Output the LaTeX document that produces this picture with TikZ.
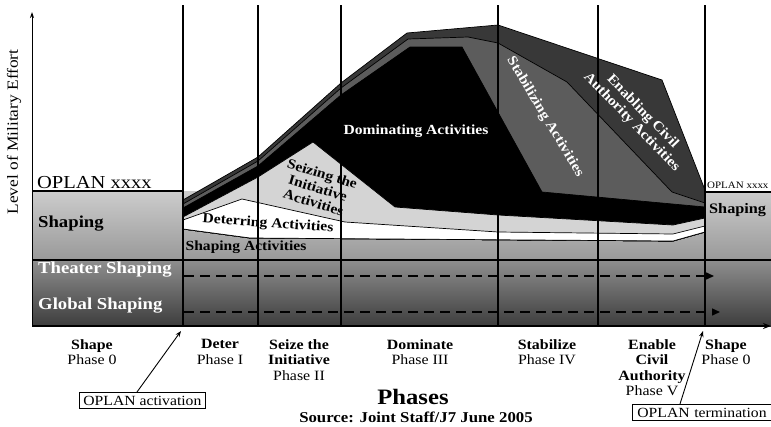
\documentclass[tikz,border=0pt]{standalone}
\usepackage{fontspec}
\setmainfont{Liberation Serif}[FakeStretch=1.12]
\usetikzlibrary{arrows.meta}

\definecolor{enablegray}{gray}{0.22}
\definecolor{stabgray}{gray}{0.36}
\definecolor{seizegray}{gray}{0.83}
\definecolor{bandtop}{gray}{0.80}
\definecolor{bandbot}{gray}{0.60}
\definecolor{deeptop}{gray}{0.56}
\definecolor{deepbot}{gray}{0.24}

\begin{document}
\begin{tikzpicture}[x=1pt, y=-1pt,
  every node/.style={inner sep=0pt},
  layer/.style={draw=black, line width=0.7pt},
  grid/.style={line width=1.1pt},
  bandlabel/.style={anchor=base west, font=\fontsize{16.7}{18}\selectfont\bfseries},
  actlabel/.style={font=\fontsize{13.9}{15}\selectfont\bfseries, align=center},
  phasetxt/.style={anchor=north, align=center, font=\fontsize{14.2}{15.5}\selectfont},
  flow/.style={line width=1.5pt, dash pattern=on 10pt off 6pt,
               -{Triangle[length=8pt, width=7pt]}},
  callout/.style={draw, line width=0.8pt, inner xsep=4pt, inner ysep=3.5pt,
                  font=\fontsize{14}{15}\selectfont},
  pointer/.style={line width=0.9pt, -{Stealth[length=6pt, width=4.5pt]}}
]
  \useasboundingbox (0,0) rectangle (771,426);

  % --- Background bands ---
  \shade[top color=bandtop, bottom color=bandbot] (32,191) rectangle (771,260);
  \shade[top color=deeptop, bottom color=deepbot] (32,260) rectangle (771,326);

  % --- Activity layers (back to front) ---
  \filldraw[layer, fill=enablegray]
    (183,200) -- (258,157) -- (341,83) -- (407,33) -- (498,25) -- (662,80)
    -- (705,190) -- (705,232) -- (673,241) -- (250,238) -- (183,229) -- cycle;
  \filldraw[layer, fill=stabgray]
    (183,204) -- (258,161) -- (341,88) -- (408,39) -- (468,37) -- (498,43)
    -- (567,82) -- (672,192) -- (705,203) -- (705,232) -- (673,241)
    -- (250,238) -- (183,229) -- cycle;
  \filldraw[layer, fill=black]
    (183,208) -- (258,166) -- (341,95) -- (410,47) -- (462,47) -- (542,192)
    -- (705,207) -- (705,232) -- (673,241) -- (250,238) -- (183,229) -- cycle;
  \filldraw[layer, fill=seizegray]
    (183,217) -- (258,177) -- (313,142) -- (395,207) -- (498,215) -- (673,225)
    -- (705,218) -- (705,232) -- (673,241) -- (250,238) -- (183,229) -- cycle;
  \filldraw[layer, fill=white]
    (183,220) -- (242,199) -- (345,222) -- (498,232) -- (673,234) -- (705,226)
    -- (705,232) -- (673,241) -- (250,238) -- (183,229) -- cycle;

  % --- Band lines ---
  \draw[grid] (32,191) -- (183,191);
  \draw[grid] (705,192) -- (771,192);
  \draw[grid] (32,260) -- (771,260);

  % --- Phase boundaries ---
  \foreach \px in {183,258,341,498,598,705}
    \draw[grid] (\px,5) -- (\px,326);

  % --- Axes ---
  \coordinate (origin) at (32,326);
  \coordinate (ytip) at (32,12);
  \coordinate (xtip) at (771,326);
  \draw[line width=1pt, -{Stealth[length=6pt, width=4pt]}] (origin) -- (ytip);
  \draw[line width=2pt, -{Stealth[length=8pt, width=6pt]}] (origin) -- (xtip);

  % --- Shaping flows ---
  \coordinate (theaterstart) at (184,276);
  \coordinate (theaterend) at (714,276);
  \coordinate (globalstart) at (184,312);
  \coordinate (globalend) at (720,312);
  \draw[flow] (theaterstart) -- (theaterend);
  \draw[flow] (globalstart) -- (globalend);

  % --- Band labels ---
  \node[anchor=base west, font=\fontsize{18.3}{20}\selectfont] (oplanleft) at (37,188) {OPLAN xxxx};
  \node[anchor=base west, font=\fontsize{9.8}{11}\selectfont] (oplanright) at (707,188) {OPLAN xxxx};
  \node[bandlabel] (shapeleft) at (38,227) {Shaping};
  \node[bandlabel, font=\fontsize{14.5}{16}\selectfont\bfseries] (shaperight) at (709,213) {Shaping};
  \node[bandlabel, text=white] (theater) at (38,273) {Theater Shaping};
  \node[bandlabel, text=white] (global) at (38,309) {Global Shaping};

  % --- Activity labels ---
  \node[actlabel, text=white] (domlbl) at (416,131) {Dominating Activities};
  \node[actlabel, rotate=-17] (seizelbl) at (318,188) {Seizing the\\Initiative\\Activities};
  \node[actlabel, rotate=-4] (deterlbl) at (268,224) {Deterring Activities};
  \node[actlabel] (shapelbl) at (246,247) {Shaping Activities};
  \node[actlabel, text=white, rotate=-59] (stablbl) at (545,117) {Stabilizing Activities};
  \node[actlabel, text=white, rotate=-46] (enablbl) at (637,117) {Enabling Civil\\Authority Activities};

  % --- Phase names ---
  \node[phasetxt] (ph0) at (92,339) {\textbf{Shape}\\Phase 0};
  \node[phasetxt] (ph1) at (220,339) {\textbf{Deter}\\Phase I};
  \node[phasetxt] (ph2) at (299,339) {\textbf{Seize the}\\\textbf{Initiative}\\Phase II};
  \node[phasetxt] (ph3) at (420,339) {\textbf{Dominate}\\Phase III};
  \node[phasetxt] (ph4) at (547,339) {\textbf{Stabilize}\\Phase IV};
  \node[phasetxt] (ph5) at (652,339) {\textbf{Enable}\\\textbf{Civil}\\\textbf{Authority}\\Phase V};
  \node[phasetxt] (ph6) at (726,339) {\textbf{Shape}\\Phase 0};

  % --- Axis titles ---
  \node[rotate=90, font=\fontsize{15.5}{17}\selectfont] (effort) at (14,132) {Level of Military Effort};
  \node[anchor=base, font=\fontsize{22}{24}\selectfont\bfseries] (phases) at (413,404) {Phases};
  \node[anchor=base, font=\fontsize{15}{17}\selectfont\bfseries] (source) at (416,422) {Source: Joint Staff/J7 June 2005};

  % --- OPLAN callouts ---
  \node[callout, anchor=north west] (oplanact) at (79,392) {OPLAN activation};
  \node[callout, anchor=north west, text width=170pt, inner xsep=5pt] (oplanterm) at (632,404) {OPLAN termination};
  \coordinate (acttip) at (181,331);
  \coordinate (termtip) at (703,331);
  \draw[pointer] ([xshift=58pt]oplanact.north west) -- (acttip);
  \draw[pointer] ([xshift=48pt]oplanterm.north west) -- (termtip);

\end{tikzpicture}
\end{document}
